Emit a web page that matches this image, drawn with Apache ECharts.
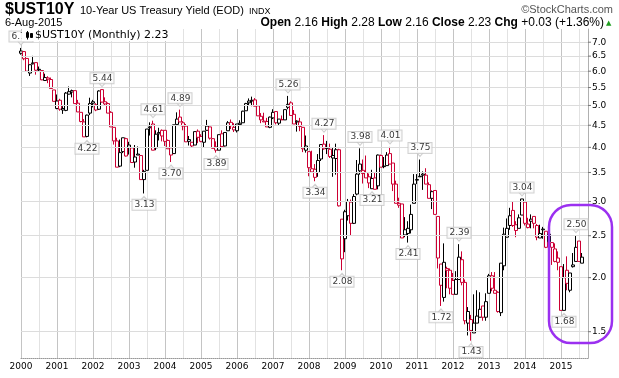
<!DOCTYPE html>
<html><head><meta charset="utf-8">
<script src="https://cdn.jsdelivr.net/npm/echarts@6/dist/echarts.min.js"></script>
<style>html,body{margin:0;padding:0;background:#fff}#c{width:619px;height:378px}</style>
</head><body><div id="c"></div>
<script>
// ---- data (monthly, Jan 2000 .. Aug 2015) ----
const firstYear = 2000;
const axisMonths = 190; // Jan 2000 .. Oct 2015 (axis span)
const openVals = [
6.60,6.66,6.42,5.94,6.24,6.28,6.06,6.02,5.71,5.79,5.74,5.43,
4.92,5.14,4.88,4.87,5.31,5.37,5.41,5.06,4.82,4.58,4.24,4.80,
5.10,5.02,4.90,5.44,5.10,5.05,4.82,4.45,4.14,3.62,3.91,4.19,
4.05,3.99,3.70,3.86,3.83,3.37,3.54,4.44,4.53,3.99,4.30,4.38,
4.38,4.15,3.99,3.87,4.52,4.70,4.56,4.48,4.17,4.11,4.05,4.36,
4.24,4.11,4.38,4.46,4.19,4.01,3.94,4.30,4.03,4.37,4.57,4.45,
4.37,4.52,4.56,4.86,5.07,5.12,5.15,4.99,4.72,4.58,4.59,4.45,
4.68,4.84,4.55,4.64,4.63,4.95,5.07,4.77,4.60,4.58,4.45,3.94,
3.91,3.57,3.56,3.50,3.76,4.07,3.99,3.96,3.78,3.77,3.95,2.73,
2.46,2.78,2.99,2.67,3.12,3.66,3.54,3.50,3.42,3.21,3.40,3.26,
3.83,3.62,3.63,3.87,3.68,3.29,2.97,2.96,2.58,2.53,2.58,2.97,
3.36,3.43,3.45,3.45,3.28,3.05,3.18,2.77,2.15,1.80,2.10,2.08,
1.97,1.83,1.98,2.20,1.95,1.57,1.60,1.49,1.57,1.62,1.72,1.62,
1.84,2.02,1.84,1.85,1.66,2.13,2.48,2.64,2.86,2.65,2.60,2.79,
2.99,2.61,2.70,2.77,2.64,2.47,2.59,2.56,2.42,2.41,2.33,2.22,
2.12,1.68,2.08,1.87,2.14,2.18,2.43,2.16];
const highVals = [
6.79,6.68,6.42,6.21,6.51,6.28,6.15,6.02,5.92,5.84,5.80,5.43,
5.30,5.18,4.98,5.37,5.53,5.44,5.41,5.15,4.82,4.65,4.76,5.21,
5.15,5.06,5.42,5.44,5.22,5.08,4.85,4.45,4.21,4.17,4.21,4.21,
4.12,4.00,4.05,4.02,3.84,3.55,4.41,4.57,4.61,4.38,4.44,4.40,
4.38,4.17,3.99,4.51,4.82,4.89,4.60,4.53,4.25,4.11,4.35,4.40,
4.29,4.36,4.63,4.46,4.20,4.13,4.28,4.38,4.33,4.60,4.64,4.55,
4.53,4.62,4.86,5.07,5.19,5.24,5.20,5.00,4.80,4.81,4.68,4.71,
4.90,4.84,4.65,4.74,4.89,5.26,5.11,4.88,4.62,4.68,4.45,4.26,
3.91,3.93,3.66,3.86,4.06,4.27,4.14,4.08,3.99,4.08,3.97,2.73,
2.87,3.04,3.03,3.12,3.74,3.98,3.75,3.83,3.48,3.55,3.50,3.85,
3.85,3.80,3.90,4.01,3.68,3.35,3.06,2.96,2.76,2.70,2.95,3.47,
3.47,3.75,3.52,3.58,3.32,3.18,3.18,2.77,2.15,2.40,2.12,2.10,
2.05,2.07,2.39,2.30,1.98,1.71,1.64,1.83,1.87,1.85,1.72,1.84,
2.04,2.06,2.06,1.86,2.16,2.61,2.74,2.90,3.00,2.70,2.80,3.04,
2.99,2.75,2.80,2.77,2.66,2.65,2.62,2.56,2.63,2.41,2.40,2.30,
2.12,2.15,2.24,2.05,2.28,2.50,2.43,2.28];
const lowVals = [
6.55,6.36,6.00,5.85,6.22,5.89,5.98,5.72,5.70,5.63,5.47,5.11,
4.90,4.86,4.78,4.85,5.30,5.22,5.05,4.83,4.57,4.23,4.22,4.75,
4.95,4.85,4.88,5.08,4.99,4.80,4.46,4.06,3.60,3.60,3.88,3.81,
3.85,3.69,3.59,3.84,3.37,3.13,3.54,4.26,3.94,3.94,4.15,4.13,
4.03,3.97,3.70,3.87,4.52,4.58,4.38,4.12,4.04,3.99,4.05,4.09,
4.11,3.99,4.37,4.17,3.98,3.89,3.94,4.02,4.02,4.37,4.41,4.34,
4.33,4.52,4.56,4.86,4.99,4.98,4.98,4.73,4.55,4.58,4.46,4.43,
4.65,4.52,4.50,4.63,4.63,4.90,4.74,4.53,4.35,4.36,3.90,3.89,
3.43,3.51,3.34,3.42,3.72,3.95,3.86,3.78,3.42,3.46,2.92,2.08,
2.29,2.71,2.50,2.66,3.10,3.46,3.30,3.40,3.22,3.21,3.20,3.20,
3.60,3.58,3.63,3.66,3.17,2.97,2.90,2.47,2.48,2.41,2.53,2.97,
3.29,3.42,3.19,3.29,3.05,2.88,2.80,2.10,1.72,1.76,1.89,1.83,
1.83,1.83,1.98,1.92,1.56,1.47,1.43,1.49,1.57,1.62,1.59,1.59,
1.84,1.86,1.84,1.66,1.63,2.08,2.48,2.58,2.62,2.48,2.60,2.79,
2.64,2.60,2.60,2.60,2.44,2.47,2.46,2.34,2.42,2.14,2.17,2.08,
1.68,1.68,1.87,1.85,2.11,2.18,2.18,2.16];
const closeVals = [
6.68,6.41,6.00,6.21,6.27,6.03,6.04,5.73,5.80,5.75,5.47,5.11,
5.12,4.90,4.92,5.34,5.38,5.41,5.05,4.83,4.59,4.23,4.75,5.05,
5.06,4.88,5.40,5.09,5.04,4.80,4.46,4.14,3.60,3.89,4.21,3.82,
4.00,3.69,3.80,3.84,3.37,3.52,4.41,4.46,3.94,4.29,4.33,4.25,
4.13,3.97,3.84,4.51,4.65,4.58,4.48,4.12,4.13,4.03,4.35,4.22,
4.13,4.36,4.48,4.20,3.98,3.94,4.28,4.02,4.33,4.56,4.49,4.39,
4.53,4.55,4.85,5.05,5.12,5.14,4.98,4.73,4.63,4.60,4.46,4.70,
4.82,4.56,4.65,4.63,4.89,5.03,4.74,4.53,4.58,4.47,3.97,4.03,
3.59,3.51,3.41,3.73,4.06,3.97,3.98,3.81,3.83,3.95,2.93,2.21,
2.84,3.00,2.67,3.08,3.47,3.53,3.48,3.40,3.31,3.39,3.20,3.84,
3.60,3.61,3.84,3.66,3.29,2.97,2.94,2.47,2.51,2.60,2.80,3.29,
3.37,3.42,3.47,3.29,3.05,3.16,2.80,2.22,1.92,2.17,2.08,1.89,
1.83,1.98,2.23,1.95,1.59,1.67,1.51,1.57,1.63,1.69,1.62,1.76,
2.02,1.89,1.87,1.67,2.16,2.52,2.60,2.78,2.64,2.57,2.75,3.04,
2.67,2.66,2.73,2.67,2.48,2.53,2.58,2.35,2.52,2.35,2.18,2.17,
1.68,2.00,1.94,2.05,2.12,2.35,2.18,2.23];
const yTicks = [1.5,2.0,2.5,3.0,3.5,4.0,4.5,5.0,5.5,6.0,6.5,7.0];
const highMarks = [['2000-01',6.79],['2002-04',5.44],['2003-09',4.61],['2004-06',4.89],['2007-06',5.26],['2008-06',4.27],['2009-06',3.98],['2010-04',4.01],['2011-02',3.75],['2012-03',2.39],['2013-12',3.04],['2015-06',2.50]];
const lowMarks = [['2001-11',4.22],['2003-06',3.13],['2004-03',3.70],['2005-06',3.89],['2008-03',3.34],['2008-12',2.08],['2009-10',3.21],['2010-10',2.41],['2011-09',1.72],['2012-07',1.43],['2015-02',1.68]];

// ---- build ----
const categories = [];
for (let i = 0; i < axisMonths; i++) {
  const y = firstYear + Math.floor(i / 12), m = i % 12 + 1;
  categories.push(y + '-' + (m < 10 ? '0' : '') + m);
}
const RED = '#cc0033', BLK = '#000000';
const candles = openVals.map((o, i) => {
  const c = closeVals[i];
  const col = (i === 0 || c >= closeVals[i - 1]) ? BLK : RED;
  return { value: [o, c, lowVals[i], highVals[i]],
           itemStyle: { color: '#ffffff', color0: col, borderColor: col, borderColor0: col } };
});
const boxLabel = {
  show: true, color: '#000', fontFamily: 'DejaVu Sans', fontSize: 9, lineHeight: 10,
  backgroundColor: '#fff', borderColor: '#c4c4c4', borderWidth: 1, padding: [0, 1, 0, 2],
  formatter: p => p.value[1].toFixed(2)
};

const chart = echarts.init(document.getElementById('c'), null, { renderer: 'canvas' });
chart.setOption({
  animation: false,
  backgroundColor: '#fff',
  grid: { left: 21, top: 29, width: 567, height: 329, containLabel: false },
  xAxis: {
    type: 'category', data: categories, boundaryGap: false,
    axisLine: { show: true, lineStyle: { color: '#999', type: 'dotted' } },
    axisTick: { show: false },
    axisLabel: { interval: i => i % 12 === 0, formatter: v => v.slice(0, 4),
      fontFamily: 'DejaVu Sans', fontSize: 9, color: '#000', margin: 4 },
    splitLine: { show: true, interval: i => i % 6 === 0,
      lineStyle: { color: ['#c4c4c4', '#e2e2e2'], width: 1 } }
  },
  yAxis: {
    type: 'log', position: 'right', min: 1.304, max: 7.51,
    axisLine: { show: true, lineStyle: { color: '#b0b0b0' } },
    axisTick: { show: false }, axisLabel: { show: false }, splitLine: { show: false }
  },
  series: [
    { type: 'line', data: [], z: 1, silent: true,
      markLine: { silent: true, symbol: 'none', animation: false,
        lineStyle: { color: '#dcdcdc', width: 1, type: 'solid' },
        label: { position: 'end', distance: 0,
          formatter: p => '{t|}{v|' + Number(p.value).toFixed(1) + '}',
          rich: { t: { width: 3, height: 1, backgroundColor: '#777' },
                  v: { fontFamily: 'DejaVu Sans', fontSize: 9, color: '#000', padding: [0, 0, 0, 1] } } },
        data: yTicks.map(v => ({ yAxis: v })) } },
    { type: 'candlestick', data: candles, barWidth: 3, clip: false, z: 3,
      itemStyle: { borderWidth: 1 } },
    { type: 'scatter', data: highMarks, z: 5, clip: false, silent: true,
      symbol: 'path://M0,0L8,0L4,5Z', symbolSize: [7, 4], symbolOffset: [0, -5],
      itemStyle: { color: '#fff', borderColor: '#c4c4c4', borderWidth: 1 },
      label: Object.assign({ position: 'top', distance: -1 }, boxLabel) },
    { type: 'scatter', data: lowMarks, z: 5, clip: false, silent: true,
      symbol: 'triangle', symbolSize: [7, 4], symbolOffset: [0, 5],
      itemStyle: { color: '#fff', borderColor: '#c4c4c4', borderWidth: 1 },
      label: Object.assign({ position: 'bottom', distance: -1 }, boxLabel) }
  ],
  graphic: [
    { type: 'text', x: 5, y: 10, z: 100, style: { text: '$UST10Y', fontFamily: 'Liberation Sans', fontSize: 16, fontWeight: 'bold', fill: '#000', verticalAlign: 'middle' } },
    { type: 'text', x: 80, y: 11, z: 100, style: { text: '10-Year US Treasury Yield (EOD)', fontFamily: 'Liberation Sans', fontSize: 11, fill: '#000', verticalAlign: 'middle' } },
    { type: 'text', x: 249, y: 11.5, z: 100, style: { text: 'INDX', fontFamily: 'Liberation Sans', fontSize: 9, fill: '#000', verticalAlign: 'middle' } },
    { type: 'text', x: 613, y: 10, z: 100, style: { text: '\u00A9StockCharts.com', fontFamily: 'Liberation Sans', fontSize: 11, fill: '#555', align: 'right', verticalAlign: 'middle' } },
    { type: 'text', x: 5, y: 23, z: 100, style: { text: '6-Aug-2015', fontFamily: 'Liberation Sans', fontSize: 11, fill: '#000', verticalAlign: 'middle' } },
    { type: 'text', x: 604, y: 23, z: 100, style: {
        text: '{b|Open} 2.16 {b|High} 2.28 {b|Low} 2.16 {b|Close} 2.23 {b|Chg} +0.03 (+1.36%)',
        fontFamily: 'Liberation Sans', fontSize: 12, fill: '#000', align: 'right', verticalAlign: 'middle',
        rich: { b: { fontFamily: 'Liberation Sans', fontSize: 12, fontWeight: 'bold' } } } },
    { type: 'text', x: 606, y: 23, z: 100, style: { text: '\u25B2', fontFamily: 'DejaVu Sans', fontSize: 7, fill: '#1f9e1f', verticalAlign: 'middle' } },
    { type: 'rect', z: 100, shape: { x: 22, y: 29.5, width: 148, height: 11.5 }, style: { fill: '#fff' } },
    { type: 'rect', z: 101, shape: { x: 26.5, y: 32.5, width: 2, height: 5 }, style: { fill: '#fff', stroke: '#000', lineWidth: 1 } },
    { type: 'line', z: 101, shape: { x1: 27.5, y1: 31, x2: 27.5, y2: 39.5 }, style: { stroke: '#000', lineWidth: 1 } },
    { type: 'rect', z: 101, shape: { x: 30.5, y: 33.5, width: 2, height: 4 }, style: { fill: '#000', stroke: '#000', lineWidth: 1 } },
    { type: 'text', x: 35, y: 35.5, z: 101, style: { text: '$UST10Y (Monthly) 2.23', fontFamily: 'DejaVu Sans', fontSize: 11, fill: '#000', verticalAlign: 'middle' } },
    { type: 'rect', z: 100, silent: true, shape: { x: 549, y: 205, width: 63, height: 138, r: 22 }, style: { fill: 'none', stroke: '#9b30f0', lineWidth: 2.5 } }
  ]
});
</script></body></html>
